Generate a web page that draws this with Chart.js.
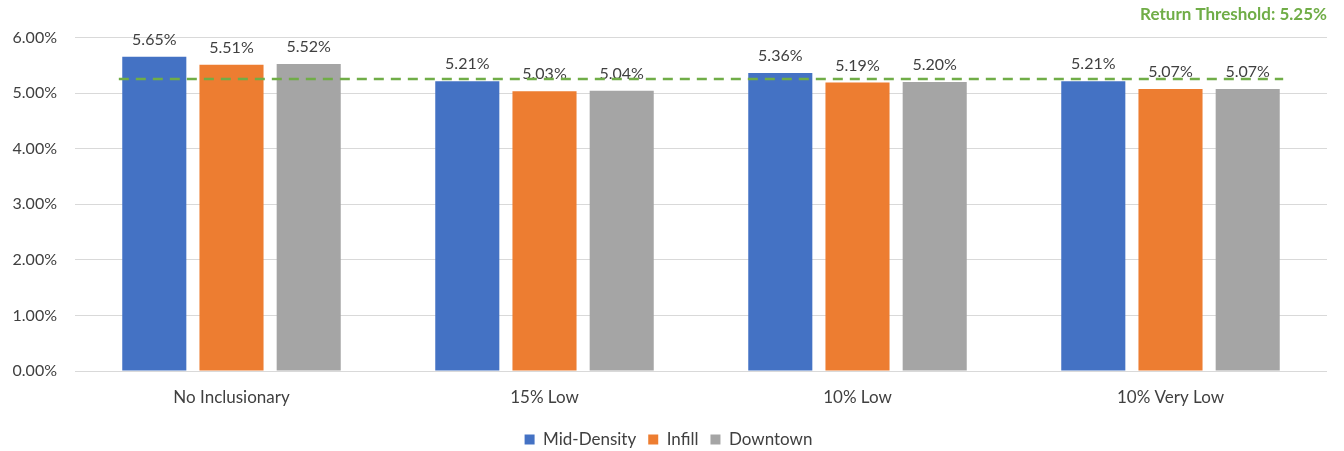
<!DOCTYPE html>
<html>
<head>
<meta charset="utf-8">
<script src="https://cdn.jsdelivr.net/npm/chart.js@4/dist/chart.umd.min.js"></script>
<style>
  html, body { margin: 0; padding: 0; background: #fff; }
  #wrap { width: 1344px; height: 451px; }
</style>
</head>
<body>
<div id="wrap"><canvas id="c"></canvas></div>
<script>
const categories = ['No Inclusionary', '15% Low', '10% Low', '10% Very Low'];
const midDensity = [5.65, 5.21, 5.36, 5.21];
const infill = [5.51, 5.03, 5.19, 5.07];
const downtown = [5.52, 5.04, 5.20, 5.07];
const yTicks = [0, 1, 2, 3, 4, 5, 6];
const threshold = 5.25;

const FONT = 'Lato, "Open Sans", sans-serif';

// value labels above each bar
const barLabels = {
    id: 'barLabels',
    afterDatasetsDraw(chart) {
        const ctx = chart.ctx;
        ctx.save();
        ctx.font = '16px ' + FONT;
        ctx.fillStyle = '#404040';
        ctx.textAlign = 'center';
        ctx.textBaseline = 'bottom';
        chart.data.datasets.forEach((ds, i) => {
            chart.getDatasetMeta(i).data.forEach((bar, j) => {
                ctx.fillText(ds.data[j].toFixed(2) + '%', bar.x, bar.y - 9);
            });
        });
        ctx.restore();
    },
};

// dashed threshold line across the groups
const thresholdLine = {
    id: 'thresholdLine',
    afterDatasetsDraw(chart) {
        const x = chart.scales.x, y = chart.scales.y;
        const step = x.getPixelForValue(1) - x.getPixelForValue(0);
        const x0 = x.getPixelForValue(0) - step * 0.36;
        const x1 = x.getPixelForValue(categories.length - 1) + step * 0.36;
        const yy = y.getPixelForValue(threshold);
        const ctx = chart.ctx;
        ctx.save();
        ctx.strokeStyle = '#70AD47';
        ctx.lineWidth = 2.5;
        ctx.setLineDash([10, 7]);
        ctx.beginPath();
        ctx.moveTo(x0, yy);
        ctx.lineTo(x1, yy);
        ctx.stroke();
        ctx.restore();
    },
};

new Chart(document.getElementById('c'), {
    type: 'bar',
    data: {
        labels: categories,
        datasets: [
            { label: 'Mid-Density', data: midDensity, backgroundColor: '#4472C4' },
            { label: 'Infill', data: infill, backgroundColor: '#ED7D31' },
            { label: 'Downtown', data: downtown, backgroundColor: '#A5A5A5' },
        ],
    },
    options: {
        responsive: true,
        maintainAspectRatio: false,
        animation: false,
        datasets: { bar: { categoryPercentage: 0.74, barPercentage: 0.83 } },
        layout: { padding: { left: 10, right: 17, top: 0, bottom: -7 } },
        plugins: {
            title: {
                display: true,
                text: 'Return Threshold: ' + threshold.toFixed(2) + '%',
                align: 'end',
                color: '#70AD47',
                font: { family: FONT, size: 17, weight: 'bold' },
                padding: { top: 4, bottom: 13 },
            },
            legend: {
                position: 'bottom',
                labels: {
                    color: '#404040',
                    font: { family: FONT, size: 17 },
                    boxWidth: 10, boxHeight: 10,
                    padding: 12,
                },
            },
            tooltip: { enabled: false },
        },
        scales: {
            x: {
                afterFit(s) { s.height = 48; },
                grid: { display: false },
                border: { display: false },
                ticks: { color: '#404040', font: { family: FONT, size: 17 }, padding: 8 },
            },
            y: {
                min: 0, max: 6,
                afterBuildTicks(s) { s.ticks = yTicks.map(v => ({ value: v })); },
                afterFit(s) { s.width = 65; },
                grid: { color: '#D9D9D9', drawTicks: false },
                border: { display: false },
                ticks: {
                    color: '#404040',
                    font: { family: FONT, size: 16 },
                    padding: 18,
                    callback: v => v.toFixed(2) + '%',
                },
            },
        },
    },
    plugins: [barLabels, thresholdLine],
});
</script>
</body>
</html>
